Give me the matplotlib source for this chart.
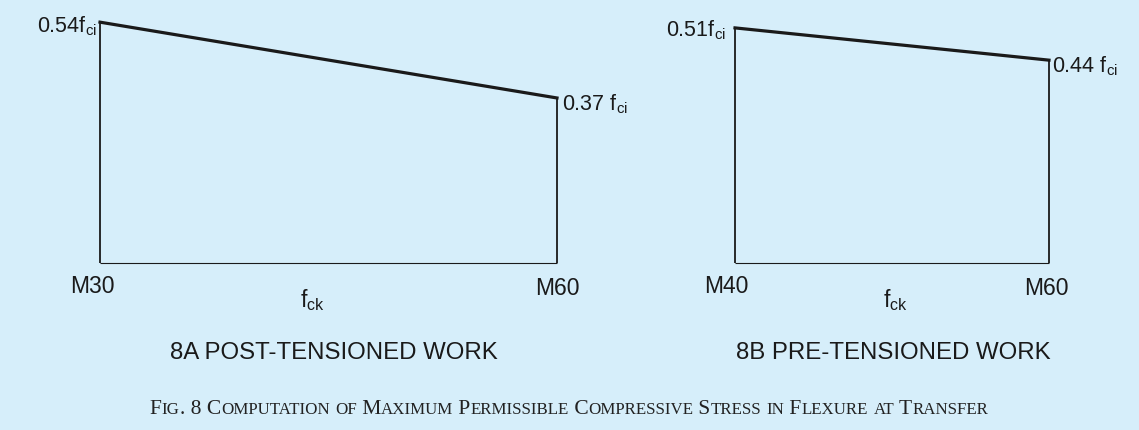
import matplotlib
matplotlib.use("Agg")
import matplotlib.pyplot as plt
from matplotlib import font_manager

# ---- data -------------------------------------------------------------
grades_post = [30, 60]          # concrete grade (N/mm2) for post-tensioned work
stress_post = [0.54, 0.37]      # permissible stress as fraction of f_ci
grades_pre = [40, 60]           # concrete grade for pre-tensioned work
stress_pre = [0.51, 0.44]
grade_labels_post = ["M30", "M60"]
grade_labels_pre = ["M40", "M60"]
value_labels_post = [r"0.54$\mathregular{f_{ci}}$", r"0.37 $\mathregular{f_{ci}}$"]
value_labels_pre = [r"0.51$\mathregular{f_{ci}}$", r"0.44 $\mathregular{f_{ci}}$"]
panel_titles = ["8A POST-TENSIONED WORK", "8B PRE-TENSIONED WORK"]
caption = "Fig. 8 Computation of Maximum Permissible Compressive Stress in Flexure at Transfer"

# ---- fonts --------------------------------------------------------------
available = {f.name for f in font_manager.fontManager.ttflist}
NARROW = "Liberation Sans Narrow" if "Liberation Sans Narrow" in available else "Liberation Sans"
SANS = "Liberation Sans"
SERIF = "Liberation Serif"

BG = "#D6EEFA"
INK = "#1a1a1a"

W, H = 1139, 430
fig = plt.figure(figsize=(W / 100, H / 100), dpi=100, facecolor=BG)


def box(px_left, px_right, px_base, px_top):
    return [px_left / W, 1 - px_base / H, (px_right - px_left) / W, (px_base - px_top) / H]


def draw_panel(ax, grades, stress, ymax):
    ax.set_facecolor("none")
    ax.set_xlim(grades[0], grades[1])
    ax.set_ylim(0, ymax)
    ax.axis("off")
    kw = dict(color=INK, clip_on=False, solid_capstyle="butt")
    ax.plot([grades[0], grades[0]], [0, stress[0]], lw=1.3, **kw)
    ax.plot([grades[1], grades[1]], [0, stress[1]], lw=1.3, **kw)
    ax.plot(grades, [0, 0], lw=0.8, **kw)
    ax.plot(grades, stress, lw=2.3, solid_joinstyle="miter", color=INK,
            clip_on=False, solid_capstyle="projecting")


# left panel: post-tensioned
ax1 = fig.add_axes(box(100, 557, 263, 0))
draw_panel(ax1, grades_post, stress_post, 263 / 446)
# right panel: pre-tensioned
ax2 = fig.add_axes(box(735, 1049, 263, 0))
draw_panel(ax2, grades_pre, stress_pre, 263 / 461)

val_kw = dict(textcoords="offset pixels", fontsize=15.5, family=NARROW, color=INK,
              va="baseline", annotation_clip=False)
ax1.annotate(value_labels_post[0], (grades_post[0], stress_post[0]), xytext=(-3, -10),
             ha="right", **val_kw)
ax1.annotate(value_labels_post[1], (grades_post[1], stress_post[1]), xytext=(5, -12),
             ha="left", **val_kw)
ax2.annotate(value_labels_pre[0], (grades_pre[0], stress_pre[0]), xytext=(-9, -9),
             ha="right", **val_kw)
ax2.annotate(value_labels_pre[1], (grades_pre[1], stress_pre[1]), xytext=(3, -12),
             ha="left", **val_kw)

tick_kw = dict(textcoords="offset pixels", fontsize=16.5, family=NARROW, color=INK,
               va="top", ha="center", annotation_clip=False)
ax1.annotate(grade_labels_post[0], (grades_post[0], 0), xytext=(-8, -12), **tick_kw)
ax1.annotate(grade_labels_post[1], (grades_post[1], 0), xytext=(0, -14), **tick_kw)
ax2.annotate(grade_labels_pre[0], (grades_pre[0], 0), xytext=(-9, -12), **tick_kw)
ax2.annotate(grade_labels_pre[1], (grades_pre[1], 0), xytext=(-3, -14), **tick_kw)

ax1.annotate(r"$\mathregular{f_{ck}}$", (0.464, 0), xycoords="axes fraction",
             xytext=(0, -24), **tick_kw)
ax2.annotate(r"$\mathregular{f_{ck}}$", (0.51, 0), xycoords="axes fraction",
             xytext=(0, -24), **tick_kw)

fig.text(334 / W, 1 - 353 / H, panel_titles[0], fontsize=17.3, family=SANS, color=INK,
         ha="center", va="center")
fig.text(893 / W, 1 - 353 / H, panel_titles[1], fontsize=17.3, family=SANS, color=INK,
         ha="center", va="center")

# caption in small capitals, built piece by piece
renderer = fig.canvas.get_renderer()
BIG, SMALL = 15.5, 12.2
pieces = []
for ch in caption:
    if ch.islower():
        pieces.append((ch.upper(), SMALL))
    else:
        pieces.append((ch, BIG))
# merge consecutive runs of the same size
runs = []
for txt, size in pieces:
    if runs and runs[-1][1] == size:
        runs[-1][0] += txt
    else:
        runs.append([txt, size])

texts = []
x = 0.0
for txt, size in runs:
    t = fig.text(0, 1 - 414 / H, txt, fontsize=size, family=SERIF, color="#222222",
                 ha="left", va="baseline")
    w = t.get_window_extent(renderer).width
    texts.append((t, x))
    x += w
total = x
start = 569 - total / 2
for t, off in texts:
    t.set_x((start + off) / W)

fig.savefig("out.png", dpi=100, facecolor=BG)
